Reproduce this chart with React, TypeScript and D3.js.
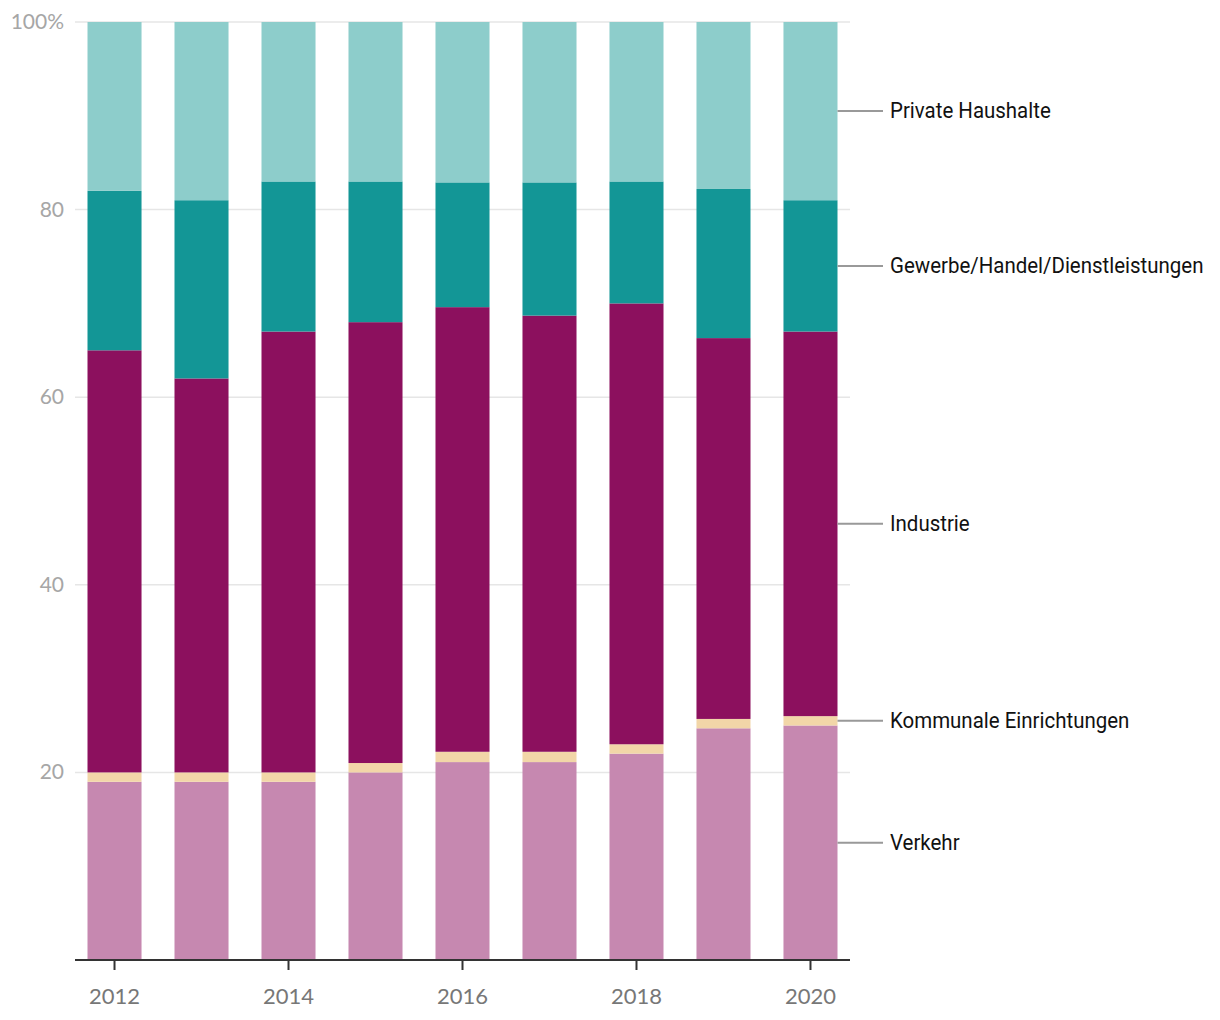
import React from "react";
import * as d3 from "d3";

const years = [2012, 2013, 2014, 2015, 2016, 2017, 2018, 2019, 2020];
const seriesNames = ["Verkehr", "Kommunale Einrichtungen", "Industrie", "Gewerbe/Handel/Dienstleistungen", "Private Haushalte"];
const verkehr = [19, 19, 19, 20, 21.1, 21.1, 22, 24.7, 25];
const kommunal = [1, 1, 1, 1, 1.1, 1.1, 1, 1, 1];
const industrie = [45, 42, 47, 47, 47.4, 46.5, 47, 40.6, 41];
const gewerbe = [17, 19, 16, 15, 13.3, 14.2, 13, 15.9, 14];
const privat = [18, 19, 17, 17, 17.1, 17.1, 17, 17.8, 19];
const yTicks = [20, 40, 60, 80, 100];
const xTickYears = [2012, 2014, 2016, 2018, 2020];
const colors = ["#c688b0", "#f2d6a8", "#8c105e", "#139696", "#8dcdcb"];

export default function App() {
  const W = 1220, H = 1020;
  const x = d3.scaleBand<number>().domain(years).range([75, 850]).paddingInner(0.379).paddingOuter(0.1437);
  const y = d3.scaleLinear().domain([0, 100]).range([960, 22]);
  const rows = years.map((yr, i) => ({
    year: yr,
    Verkehr: verkehr[i],
    "Kommunale Einrichtungen": kommunal[i],
    Industrie: industrie[i],
    "Gewerbe/Handel/Dienstleistungen": gewerbe[i],
    "Private Haushalte": privat[i],
  }));
  const stack = d3.stack<any>().keys(seriesNames)(rows);
  const last = years.length - 1;
  const bx = (yr: number) => (x(yr) as number);
  const lastRight = bx(years[last]) + x.bandwidth();
  return (
    <svg width={W} height={H} style={{ position: "absolute", left: 0, top: 0, background: "#fff" }}>
      {yTicks.map((t) => (
        <g key={t}>
          <line x1={75} x2={850} y1={y(t)} y2={y(t)} stroke="#e6e6e6" strokeWidth={1.5} />
          <text x={64} y={y(t) + 7} textAnchor="end" fontFamily="Lato, 'Open Sans', sans-serif" fontSize={21} fill="#a6a6a6">
            {t === 100 ? "100%" : t}
          </text>
        </g>
      ))}
      {stack.map((s, si) => (
        <g key={s.key} fill={colors[si]}>
          {s.map((d: any, i: number) => (
            <rect key={i} x={bx(years[i])} width={x.bandwidth()} y={y(d[1])} height={y(d[0]) - y(d[1])} />
          ))}
        </g>
      ))}
      <line x1={75} x2={850} y1={960} y2={960} stroke="#333" strokeWidth={2} />
      {xTickYears.map((yr) => {
        const cx = bx(yr) + x.bandwidth() / 2;
        return (
          <g key={yr}>
            <line x1={cx} x2={cx} y1={960} y2={970} stroke="#333" strokeWidth={2} />
            <text x={cx} y={1004} textAnchor="middle" fontFamily="Lato, 'Open Sans', sans-serif" fontSize={22} fill="#777">
              {yr}
            </text>
          </g>
        );
      })}
      {stack.map((s) => {
        const d: any = s[last];
        const cy = y((d[0] + d[1]) / 2);
        return (
          <g key={s.key}>
            <line x1={lastRight} x2={883} y1={cy} y2={cy} stroke="#999" strokeWidth={2} />
            <text transform={`translate(890,${cy + 7}) scale(0.93,1)`} fontFamily="Roboto, sans-serif" fontSize={22} fill="#111">
              {s.key}
            </text>
          </g>
        );
      })}
    </svg>
  );
}
